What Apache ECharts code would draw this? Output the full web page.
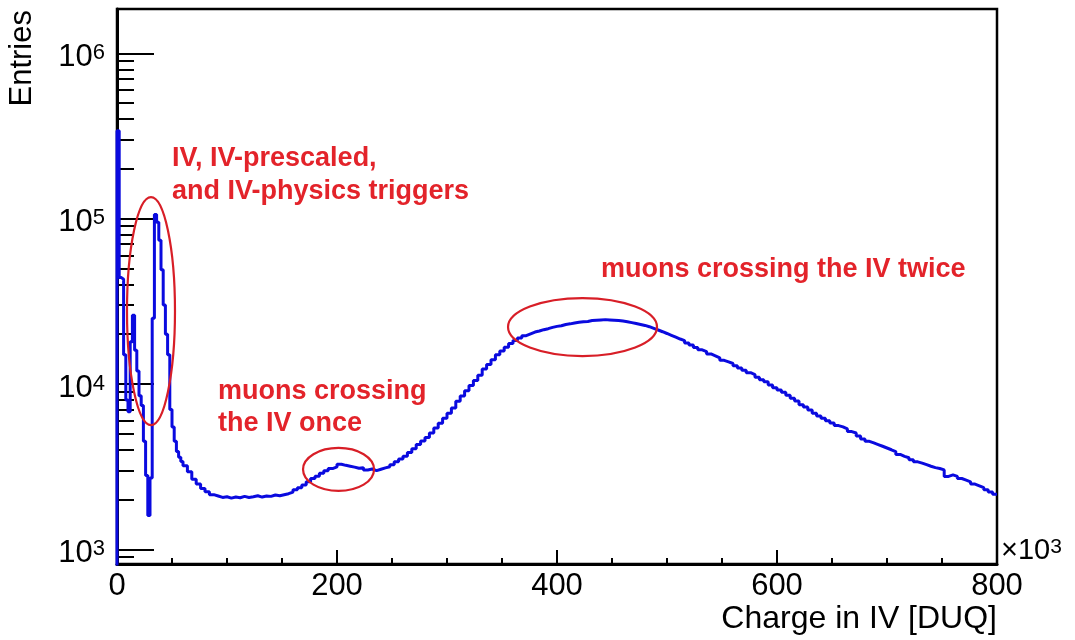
<!DOCTYPE html>
<html>
<head>
<meta charset="utf-8">
<script src="https://cdn.jsdelivr.net/npm/echarts@6/dist/echarts.min.js"></script>
<style>
  html, body { margin: 0; padding: 0; background: #fff; }
  #chart { width: 1075px; height: 640px; }
</style>
</head>
<body>
<div id="chart"></div>
<script>
// Charge collected in the inner veto (IV); x in units of 10^3 DUQ.

// Fine binning (2 units) for the trigger peaks between 0 and 60
const spikeStart = 0;
const spikeBinWidth = 2;
const spikeEntries = [
  340000, 44000, 43000, 15000, 8000, 6800, 18000, 26000, 16000, 12000,
  8500, 7400, 4500, 2800, 1600, 2700, 25000, 106000, 95000, 74000,
  49000, 30000, 20000, 15000, 7000, 5500, 4500, 3900, 3600, 3400
];

// Regular binning (4 units) from 60 to 800
const bulkStart = 60;
const bulkBinWidth = 4;
const bulkEntries = [
  3200, 2950, 2650, 2480, 2330, 2230, 2140, 2100, 2060, 2080,
  2040, 2070, 2050, 2090, 2060, 2080, 2110, 2070, 2100, 2090,
  2130, 2110, 2140, 2170, 2220, 2290, 2360, 2450, 2560, 2680,
  2770, 2880, 2990, 3080, 3150, 3270, 3220, 3180, 3140, 3090,
  3120, 3020, 3060, 2990, 3050, 3110, 3160, 3250, 3380, 3520,
  3650, 3850, 4050, 4300, 4520, 4750, 5050, 5420, 5780, 6200,
  6650, 7150, 7850, 8450, 9100, 9800, 10500, 11300, 12300, 13100,
  14000, 15000, 15800, 16700, 17600, 18300, 19000, 19600, 20100, 20600,
  20900, 21300, 21600, 22000, 22300, 22500, 22900, 23100, 23400, 23600,
  23800, 23900, 24200, 24300, 24400, 24500, 24400, 24300, 24200, 24000,
  23800, 23500, 23200, 22900, 22600, 22200, 21700, 21200, 20700, 20200,
  19700, 19200, 18700, 18300, 17700, 17200, 16600, 16100, 15700, 15200,
  14800, 14400, 13900, 13600, 13300, 12900, 12500, 12100, 11700, 11400,
  11000, 10600, 10300, 9850, 9500, 9200, 8900, 8550, 8200, 7900,
  7500, 7250, 6950, 6650, 6400, 6200, 6000, 5800, 5600, 5500,
  5350, 5150, 5050, 4850, 4650, 4500, 4400, 4300, 4200, 4100,
  4000, 3900, 3750, 3650, 3580, 3480, 3380, 3320, 3250, 3180,
  3120, 3080, 3020, 2760, 2820, 2760, 2680, 2620, 2560, 2480,
  2420, 2360, 2290, 2220, 2150
];

// Axis ranges and ticks
const xMin = 0, xMax = 800, xInterval = 200;
const yMin = 815, yMax = 1853000;
const yDecades = [1000, 10000, 100000, 1000000];
const yMinorTicks = [
  900,
  2000, 3000, 4000, 5000, 6000, 7000, 8000, 9000,
  20000, 30000, 40000, 50000, 60000, 70000, 80000, 90000,
  200000, 300000, 400000, 500000, 600000, 700000, 800000, 900000
];

// Annotations: text anchors (left edge, vertical middle) in data coordinates
const noteTexts = [
  'IV, IV-prescaled,',
  'and IV-physics triggers',
  'muons crossing',
  'the IV once',
  'muons crossing the IV twice'
];
const noteAnchors = [
  [50, 229600],
  [50, 145000],
  [91.8, 8950],
  [91.8, 5730],
  [440, 49000]
];
// Ellipses around the features: centres in data coordinates, radii in pixels
const ellipseCenters = [[30.9, 27600], [201.4, 3040], [423.2, 22100]];
const ellipseRadii = [[24, 114], [35.5, 21.5], [74.5, 29]];

// Build the step outline from bin left edges
const histPoints = [[spikeStart, 100]];
spikeEntries.forEach((v, i) => histPoints.push([spikeStart + i * spikeBinWidth, v]));
bulkEntries.forEach((v, i) => histPoints.push([bulkStart + i * bulkBinWidth, v]));
histPoints.push([bulkStart + bulkEntries.length * bulkBinWidth, bulkEntries[bulkEntries.length - 1]]);

const FONT = '"Liberation Sans", Arial, Helvetica, sans-serif';
const RED_TEXT = '#e3232a';
const RED_LINE = '#d81e27';
const BLUE = '#0a0adf';

const chart = echarts.init(document.getElementById('chart'), null, { renderer: 'canvas' });

chart.setOption({
  animation: false,
  backgroundColor: '#fff',
  grid: {
    left: 117, top: 9, right: 78, bottom: 76,
    show: true, borderColor: '#000', borderWidth: 2.5, backgroundColor: 'transparent'
  },
  xAxis: {
    type: 'value',
    min: xMin, max: xMax, interval: xInterval,
    axisLine: { show: true, onZero: false, lineStyle: { color: '#000', width: 3 } },
    axisTick: { show: true, inside: true, length: 14, lineStyle: { color: '#000', width: 2 } },
    minorTick: { show: true, splitNumber: 4, length: 6, lineStyle: { color: '#000', width: 2 } },
    splitLine: { show: false },
    minorSplitLine: { show: false },
    axisLabel: { color: '#000', fontSize: 31, fontFamily: FONT, margin: 7 }
  },
  yAxis: [
    {
      type: 'log', logBase: 10, min: yMin, max: yMax, position: 'left',
      axisLine: { show: true, lineStyle: { color: '#000', width: 3 } },
      axisTick: { show: true, inside: true, length: 37, customValues: yDecades,
                  lineStyle: { color: '#000', width: 2 } },
      splitLine: { show: false },
      axisLabel: {
        customValues: yDecades,
        margin: 12,
        padding: [8, 0, 0, 0],
        formatter: v => '{b|10}{s|' + Math.round(Math.log10(v)) + '}',
        rich: {
          b: { fontSize: 31, fontFamily: FONT, color: '#000', lineHeight: 31, verticalAlign: 'bottom' },
          s: { fontSize: 22, fontFamily: FONT, color: '#000', lineHeight: 24, verticalAlign: 'top' }
        }
      }
    },
    {
      type: 'log', logBase: 10, min: yMin, max: yMax, position: 'left', offset: 0,
      axisLine: { show: false },
      axisTick: { show: true, inside: true, length: 17, customValues: yMinorTicks,
                  lineStyle: { color: '#000', width: 2 } },
      axisLabel: { show: false },
      splitLine: { show: false }
    }
  ],
  series: [
    {
      type: 'line',
      name: 'Charge in IV',
      data: histPoints,
      step: 'end',
      symbol: 'none',
      clip: true,
      lineStyle: { color: BLUE, width: 3 },
      z: 2
    },
    {
      type: 'custom',
      name: 'ellipses',
      data: ellipseCenters,
      silent: true,
      z: 3,
      renderItem: (params, api) => {
        const p = api.coord([api.value(0), api.value(1)]);
        const r = ellipseRadii[params.dataIndex];
        return {
          type: 'ellipse',
          shape: { cx: p[0], cy: p[1], rx: r[0], ry: r[1] },
          style: { fill: 'none', stroke: RED_LINE, lineWidth: 2.2 }
        };
      }
    },
    {
      type: 'custom',
      name: 'notes',
      data: noteAnchors,
      silent: true,
      z: 4,
      renderItem: (params, api) => {
        const p = api.coord([api.value(0), api.value(1)]);
        return {
          type: 'text',
          x: p[0], y: p[1],
          style: {
            text: noteTexts[params.dataIndex],
            fill: RED_TEXT,
            fontSize: 27, fontWeight: 'bold', fontFamily: FONT,
            align: 'left', verticalAlign: 'middle',
            textAlign: 'left', textVerticalAlign: 'middle'
          }
        };
      }
    }
  ],
  graphic: [
    {
      type: 'text', x: 22, y: 10, rotation: Math.PI / 2,
      style: { text: 'Entries', fill: '#000', fontSize: 31, fontFamily: FONT,
               align: 'right', verticalAlign: 'middle' }
    },
    {
      type: 'text', x: 997, y: 619,
      style: { text: 'Charge in IV [DUQ]', fill: '#000', fontSize: 32, fontFamily: FONT,
               align: 'right', verticalAlign: 'middle' }
    },
    {
      type: 'text', x: 1001, y: 551,
      style: {
        text: '{b|\u00d710}{s|3}',
        verticalAlign: 'middle', align: 'left',
        rich: {
          b: { fontSize: 29, fontFamily: FONT, fill: '#000', color: '#000', lineHeight: 29, verticalAlign: 'bottom' },
          s: { fontSize: 21, fontFamily: FONT, fill: '#000', color: '#000', lineHeight: 22, verticalAlign: 'top' }
        }
      }
    }
  ]
});
</script>
</body>
</html>
